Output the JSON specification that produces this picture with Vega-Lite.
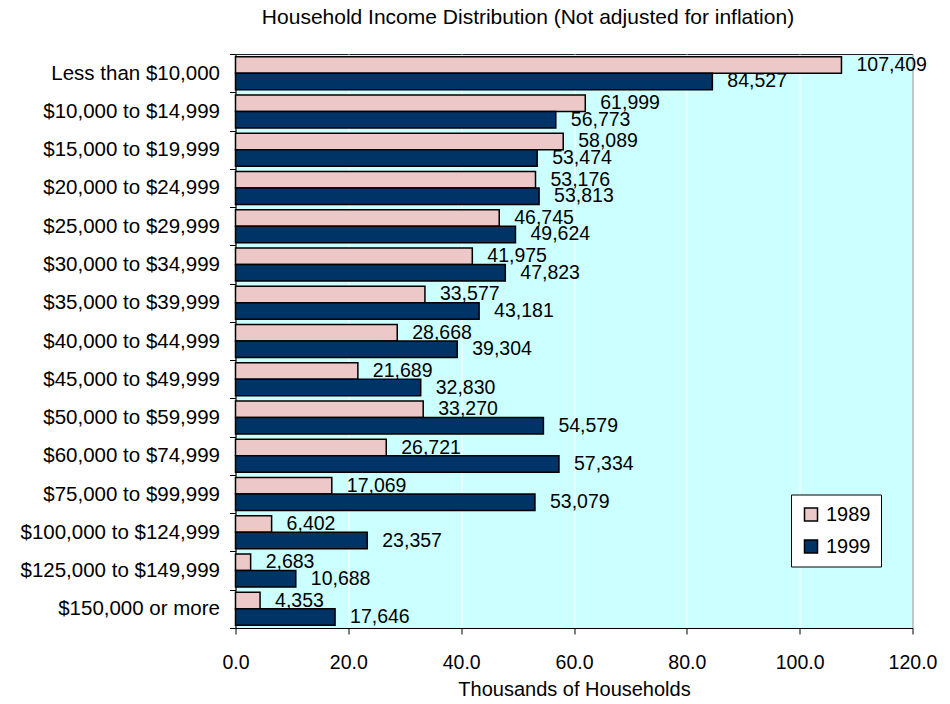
{
  "$schema": "https://vega.github.io/schema/vega-lite/v6.json",
  "width": 677,
  "height": 574,
  "autosize": {"type": "none"},
  "padding": {"left": 235.5, "top": 54, "right": 37.5, "bottom": 76},
  "background": "white",
  "title": {
    "text": "Household Income Distribution (Not adjusted for inflation)",
    "fontSize": 21,
    "font": "Liberation Sans",
    "fontWeight": "normal",
    "color": "black",
    "anchor": "middle",
    "offset": 16,
    "dx": -46
  },
  "config": {
    "font": "Liberation Sans",
    "view": {"fill": "#CCFFFF", "stroke": "#222222", "strokeWidth": 1}
  },
  "data": {
    "values": [
      {"bracket": "Less than $10,000", "year": "1989", "households": 107409},
      {"bracket": "Less than $10,000", "year": "1999", "households": 84527},
      {"bracket": "$10,000 to $14,999", "year": "1989", "households": 61999},
      {"bracket": "$10,000 to $14,999", "year": "1999", "households": 56773},
      {"bracket": "$15,000 to $19,999", "year": "1989", "households": 58089},
      {"bracket": "$15,000 to $19,999", "year": "1999", "households": 53474},
      {"bracket": "$20,000 to $24,999", "year": "1989", "households": 53176},
      {"bracket": "$20,000 to $24,999", "year": "1999", "households": 53813},
      {"bracket": "$25,000 to $29,999", "year": "1989", "households": 46745},
      {"bracket": "$25,000 to $29,999", "year": "1999", "households": 49624},
      {"bracket": "$30,000 to $34,999", "year": "1989", "households": 41975},
      {"bracket": "$30,000 to $34,999", "year": "1999", "households": 47823},
      {"bracket": "$35,000 to $39,999", "year": "1989", "households": 33577},
      {"bracket": "$35,000 to $39,999", "year": "1999", "households": 43181},
      {"bracket": "$40,000 to $44,999", "year": "1989", "households": 28668},
      {"bracket": "$40,000 to $44,999", "year": "1999", "households": 39304},
      {"bracket": "$45,000 to $49,999", "year": "1989", "households": 21689},
      {"bracket": "$45,000 to $49,999", "year": "1999", "households": 32830},
      {"bracket": "$50,000 to $59,999", "year": "1989", "households": 33270},
      {"bracket": "$50,000 to $59,999", "year": "1999", "households": 54579},
      {"bracket": "$60,000 to $74,999", "year": "1989", "households": 26721},
      {"bracket": "$60,000 to $74,999", "year": "1999", "households": 57334},
      {"bracket": "$75,000 to $99,999", "year": "1989", "households": 17069},
      {"bracket": "$75,000 to $99,999", "year": "1999", "households": 53079},
      {"bracket": "$100,000 to $124,999", "year": "1989", "households": 6402},
      {"bracket": "$100,000 to $124,999", "year": "1999", "households": 23357},
      {"bracket": "$125,000 to $149,999", "year": "1989", "households": 2683},
      {"bracket": "$125,000 to $149,999", "year": "1999", "households": 10688},
      {"bracket": "$150,000 or more", "year": "1989", "households": 4353},
      {"bracket": "$150,000 or more", "year": "1999", "households": 17646}
    ]
  },
  "encoding": {
    "y": {
      "field": "bracket",
      "type": "nominal",
      "sort": null,
      "scale": {"paddingInner": 0, "paddingOuter": 0},
      "axis": {
        "title": null,
        "tickBand": "extent",
        "tickSize": 6,
        "tickColor": "black",
        "domainColor": "black",
        "labelFontSize": 20.5,
        "labelPadding": 10,
        "labelColor": "black",
        "labelLimit": 400,
        "grid": false
      }
    },
    "yOffset": {
      "field": "year",
      "type": "nominal",
      "scale": {"domain": ["1989", "1999"], "paddingInner": 0, "paddingOuter": 0.16}
    },
    "x": {
      "field": "households",
      "type": "quantitative",
      "scale": {"domain": [0, 120000], "nice": false},
      "axis": {
        "values": [0, 20000, 40000, 60000, 80000, 100000, 120000],
        "labelExpr": "format(datum.value / 1000, '.1f')",
        "grid": true,
        "gridColor": "white",
        "gridWidth": 1,
        "gridOpacity": 1,
        "domainColor": "black",
        "tickColor": "black",
        "tickSize": 6,
        "labelFontSize": 19.5,
        "labelPadding": 19,
        "labelColor": "black",
        "labelFlush": false,
        "title": "Thousands of Households",
        "titleFontSize": 20,
        "titleFontWeight": "normal",
        "titleColor": "black",
        "titlePadding": 8
      }
    }
  },
  "layer": [
    {
      "mark": {"type": "bar", "stroke": "black", "strokeWidth": 1.5},
      "encoding": {
        "fill": {
          "field": "year",
          "type": "nominal",
          "scale": {"domain": ["1989", "1999"], "range": ["#EDC8C8", "#003366"]},
          "legend": {
            "orient": "none",
            "legendX": 555.5,
            "legendY": 440.5,
            "title": null,
            "fillColor": "white",
            "strokeColor": "black",
            "padding": 10,
            "rowPadding": 12,
            "symbolType": "square",
            "symbolSize": 169,
            "symbolStrokeColor": "black",
            "symbolStrokeWidth": 1.5,
            "labelFontSize": 20,
            "labelOffset": 5,
            "labelColor": "black"
          }
        }
      }
    },
    {
      "mark": {"type": "text", "align": "left", "baseline": "middle", "dx": 15, "fontSize": 19.5, "color": "black"},
      "encoding": {
        "text": {"field": "households", "type": "quantitative", "format": ","}
      }
    }
  ]
}
